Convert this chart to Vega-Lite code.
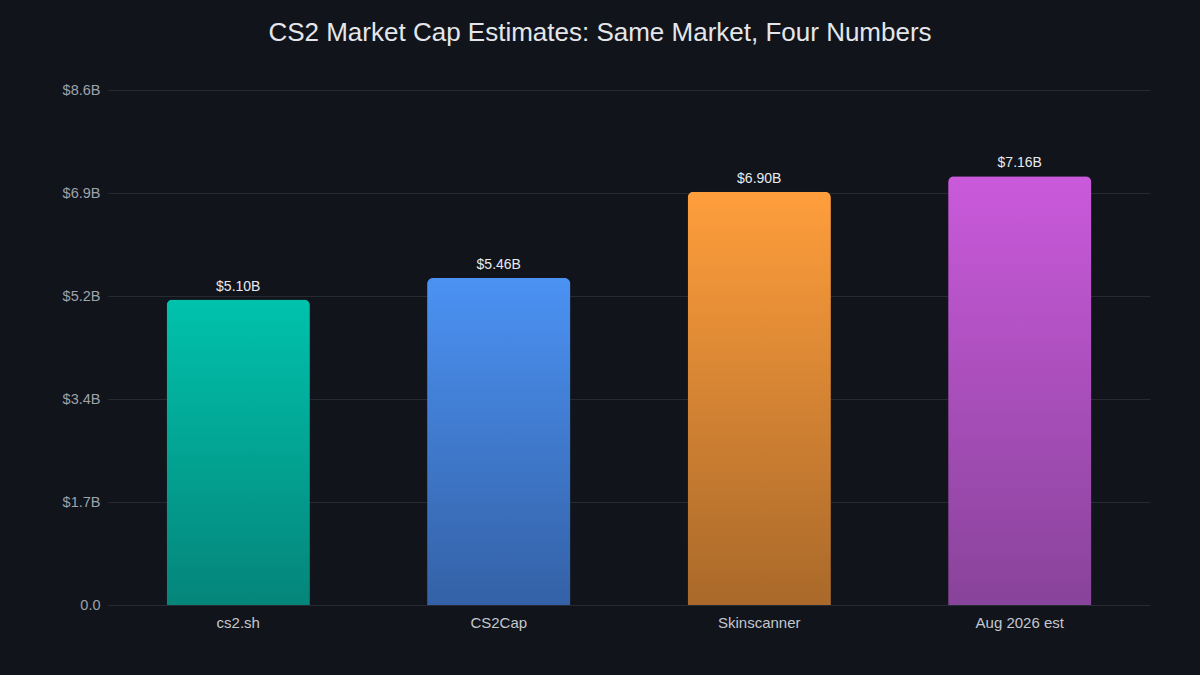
{
  "$schema": "https://vega.github.io/schema/vega-lite/v6.json",
  "autosize": "none",
  "width": 1042,
  "height": 515,
  "padding": {"left": 108, "top": 90, "right": 50, "bottom": 70},
  "background": "#11141b",
  "title": {
    "text": "CS2 Market Cap Estimates: Same Market, Four Numbers",
    "font": "Liberation Sans",
    "fontSize": 26,
    "fontWeight": "normal",
    "color": "#e4e6ea",
    "anchor": "middle",
    "dx": -29,
    "offset": 36
  },
  "config": {
    "view": {"stroke": null},
    "font": "Liberation Sans"
  },
  "data": {
    "values": [
      {"source": "cs2.sh", "value": 5.10, "label": "$5.10B"},
      {"source": "CS2Cap", "value": 5.46, "label": "$5.46B"},
      {"source": "Skinscanner", "value": 6.90, "label": "$6.90B"},
      {"source": "Aug 2026 est", "value": 7.16, "label": "$7.16B"}
    ]
  },
  "encoding": {
    "x": {
      "field": "source",
      "type": "nominal",
      "sort": null,
      "title": null,
      "scale": {"paddingInner": 0.45, "paddingOuter": 0.225},
      "axis": {
        "domain": false,
        "ticks": false,
        "labelAngle": 0,
        "labelFontSize": 15,
        "labelColor": "#c3c7ce",
        "labelPadding": 10
      }
    },
    "y": {
      "field": "value",
      "type": "quantitative",
      "title": null,
      "scale": {"domain": [0, 8.6], "nice": false},
      "axis": {
        "values": [0, 1.72, 3.44, 5.16, 6.88, 8.6],
        "labelExpr": "datum.value == 0 ? '0.0' : '$' + format(datum.value, '.1f') + 'B'",
        "domain": false,
        "ticks": false,
        "labelFontSize": 14.5,
        "labelColor": "#9ea3ab",
        "labelPadding": 8,
        "gridColor": "#262a32",
        "gridWidth": 1
      }
    }
  },
  "layer": [
    {
      "transform": [{"filter": "datum.source == 'cs2.sh'"}],
      "mark": {"type": "bar", "cornerRadiusTopLeft": 6, "cornerRadiusTopRight": 6,
        "color": {"gradient": "linear", "x1": 0, "y1": 0, "x2": 0, "y2": 1,
          "stops": [{"offset": 0, "color": "#00c2ac"}, {"offset": 1, "color": "#05857a"}]}}
    },
    {
      "transform": [{"filter": "datum.source == 'CS2Cap'"}],
      "mark": {"type": "bar", "cornerRadiusTopLeft": 6, "cornerRadiusTopRight": 6,
        "color": {"gradient": "linear", "x1": 0, "y1": 0, "x2": 0, "y2": 1,
          "stops": [{"offset": 0, "color": "#4b92f3"}, {"offset": 1, "color": "#3461a6"}]}}
    },
    {
      "transform": [{"filter": "datum.source == 'Skinscanner'"}],
      "mark": {"type": "bar", "cornerRadiusTopLeft": 6, "cornerRadiusTopRight": 6,
        "color": {"gradient": "linear", "x1": 0, "y1": 0, "x2": 0, "y2": 1,
          "stops": [{"offset": 0, "color": "#ff9e3c"}, {"offset": 1, "color": "#a9692a"}]}}
    },
    {
      "transform": [{"filter": "datum.source == 'Aug 2026 est'"}],
      "mark": {"type": "bar", "cornerRadiusTopLeft": 6, "cornerRadiusTopRight": 6,
        "color": {"gradient": "linear", "x1": 0, "y1": 0, "x2": 0, "y2": 1,
          "stops": [{"offset": 0, "color": "#ca5adb"}, {"offset": 1, "color": "#88439a"}]}}
    },
    {
      "mark": {"type": "text", "baseline": "bottom", "dy": -6, "fontSize": 14, "color": "#e8eaee"},
      "encoding": {"text": {"field": "label"}}
    }
  ]
}
